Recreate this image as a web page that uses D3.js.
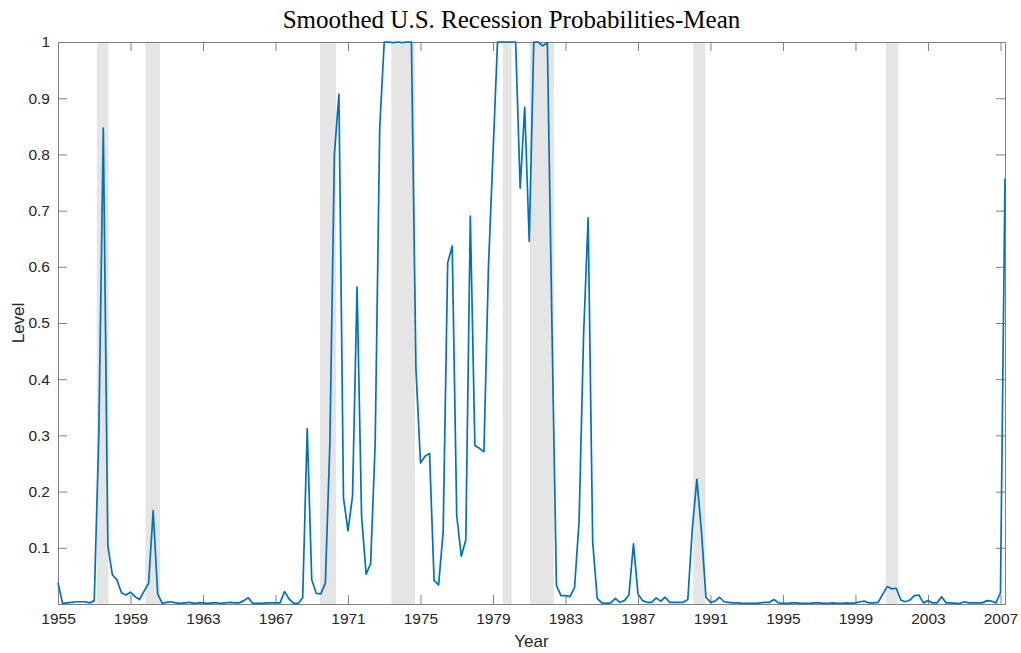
<!DOCTYPE html>
<html>
<head>
<meta charset="utf-8">
<script src="https://cdn.jsdelivr.net/npm/d3@7"></script>
<style>
  html, body { margin: 0; padding: 0; background: #fff; }
  svg { display: block; }
</style>
</head>
<body>
<svg id="chart" width="1021" height="653"></svg>
<script>
// Quarterly smoothed recession probabilities (mean), starting 1955 Q1
const startYear = 1955;
const stepYears = 0.25;
const probMean = [
  0.038, 0.001, 0.002, 0.003,   // 1955
  0.004, 0.004, 0.004, 0.002,   // 1956
  0.006, 0.300, 0.847, 0.104,   // 1957
  0.052, 0.043, 0.020, 0.016,   // 1958
  0.021, 0.013, 0.008, 0.023,   // 1959
  0.037, 0.166, 0.018, 0.001,   // 1960
  0.003, 0.004, 0.002, 0.001,   // 1961
  0.002, 0.003, 0.001, 0.002,   // 1962
  0.002, 0.001, 0.002, 0.002,   // 1963
  0.001, 0.002, 0.003, 0.002,   // 1964
  0.002, 0.006, 0.011, 0.001,   // 1965
  0.001, 0.001, 0.002, 0.002,   // 1966
  0.002, 0.002, 0.022, 0.009,   // 1967
  0.001, 0.001, 0.011, 0.312,   // 1968
  0.043, 0.019, 0.018, 0.037,   // 1969
  0.285, 0.800, 0.907, 0.189,   // 1970
  0.130, 0.192, 0.564, 0.156,   // 1971
  0.053, 0.072, 0.285, 0.847,   // 1972
  1.000, 1.000, 0.999, 1.000,   // 1973
  0.999, 1.000, 1.000, 0.417,   // 1974
  0.251, 0.263, 0.268, 0.042,   // 1975
  0.034, 0.128, 0.607, 0.637,   // 1976
  0.157, 0.085, 0.114, 0.690,   // 1977
  0.282, 0.277, 0.271, 0.600,   // 1978
  0.800, 1.000, 1.000, 1.000,   // 1979
  1.000, 1.000, 0.740, 0.884,   // 1980
  0.645, 1.000, 1.000, 0.993,   // 1981
  0.999, 0.500, 0.033, 0.015,   // 1982
  0.015, 0.013, 0.029, 0.147,   // 1983
  0.480, 0.687, 0.111, 0.010,   // 1984
  0.002, 0.001, 0.002, 0.010,   // 1985
  0.003, 0.006, 0.016, 0.107,   // 1986
  0.018, 0.006, 0.003, 0.003,   // 1987
  0.011, 0.005, 0.012, 0.003,   // 1988
  0.003, 0.003, 0.003, 0.008,   // 1989
  0.135, 0.222, 0.130, 0.012,   // 1990
  0.003, 0.005, 0.012, 0.004,   // 1991
  0.003, 0.002, 0.002, 0.001,   // 1992
  0.001, 0.001, 0.001, 0.002,   // 1993
  0.003, 0.003, 0.008, 0.002,   // 1994
  0.001, 0.001, 0.002, 0.002,   // 1995
  0.001, 0.001, 0.001, 0.002,   // 1996
  0.002, 0.001, 0.001, 0.002,   // 1997
  0.001, 0.001, 0.002, 0.001,   // 1998
  0.002, 0.004, 0.005, 0.002,   // 1999
  0.002, 0.003, 0.017, 0.031,   // 2000
  0.027, 0.028, 0.007, 0.004,   // 2001
  0.007, 0.015, 0.016, 0.002,   // 2002
  0.006, 0.002, 0.002, 0.013,   // 2003
  0.002, 0.002, 0.001, 0.001,   // 2004
  0.004, 0.002, 0.002, 0.002,   // 2005
  0.002, 0.006, 0.005, 0.002,   // 2006
  0.020, 0.757                  // 2007
];

// Recession periods (shaded bands), in years on the time axis
const recessionStart = [1957.14, 1959.82, 1969.46, 1973.39, 1979.54, 1981.03, 1990.05, 2000.68];
const recessionEnd   = [1957.79, 1960.63, 1970.35, 1974.69, 1980.03, 1982.36, 1990.71, 2001.36];

const xTicks = [1955, 1959, 1963, 1967, 1971, 1975, 1979, 1983, 1987, 1991, 1995, 1999, 2003, 2007];
const yTicks = [0.1, 0.2, 0.3, 0.4, 0.5, 0.6, 0.7, 0.8, 0.9, 1];

const titleText = "Smoothed U.S. Recession Probabilities-Mean";
const xLabel = "Year";
const yLabel = "Level";

const series = probMean.map((v, i) => ({ t: startYear + i * stepYears, v }));
const recessions = recessionStart.map((s, i) => ({ s, e: recessionEnd[i] }));

const svg = d3.select("#chart");
const plot = { left: 58, right: 1005, top: 42, bottom: 604 };

const x = d3.scaleLinear().domain([1955, 2007.25]).range([plot.left, plot.right]);
const y = d3.scaleLinear().domain([0, 1]).range([plot.bottom, plot.top]);

const axisColor = "#808080";
const textColor = "#262626";
const lineColor = "#0072BD";
const font = "'Liberation Sans', Arial, Helvetica, sans-serif";

// Shaded recession bands
svg.append("g").selectAll("rect")
  .data(recessions)
  .join("rect")
  .attr("x", d => x(d.s))
  .attr("y", plot.top)
  .attr("width", d => x(d.e) - x(d.s))
  .attr("height", plot.bottom - plot.top)
  .attr("fill", "#e5e5e5");

// Axes with inward ticks on all four sides
const tickLen = 9;
const fmtY = d => (d === 1 ? "1" : d.toFixed(1));

const gx = svg.append("g")
  .attr("transform", `translate(0,${plot.bottom})`)
  .call(d3.axisBottom(x).tickValues(xTicks).tickFormat(d3.format("d")).tickSize(-tickLen).tickPadding(8));
const gxTop = svg.append("g")
  .attr("transform", `translate(0,${plot.top})`)
  .call(d3.axisTop(x).tickValues(xTicks).tickFormat("").tickSize(-tickLen));
const gy = svg.append("g")
  .attr("transform", `translate(${plot.left},0)`)
  .call(d3.axisLeft(y).tickValues(yTicks).tickFormat(fmtY).tickSize(-tickLen).tickPadding(8));
const gyRight = svg.append("g")
  .attr("transform", `translate(${plot.right},0)`)
  .call(d3.axisRight(y).tickValues(yTicks).tickFormat("").tickSize(-tickLen));

[gx, gxTop, gy, gyRight].forEach(g => {
  g.select(".domain").attr("stroke", axisColor).attr("stroke-width", 1);
  g.selectAll(".tick line").attr("stroke", axisColor).attr("stroke-width", 1);
  g.selectAll(".tick text")
    .attr("fill", textColor)
    .style("font-family", font)
    .style("font-size", "15.5px");
});
gx.selectAll(".tick text").attr("dy", "0.8em");

// Probability line
const line = d3.line().x(d => x(d.t)).y(d => y(d.v));
svg.append("path")
  .datum(series)
  .attr("d", line)
  .attr("fill", "none")
  .attr("stroke", lineColor)
  .attr("stroke-width", 1.7)
  .attr("stroke-linejoin", "round");

// Title and axis labels
svg.append("text")
  .attr("x", (plot.left + plot.right) / 2 - 20)
  .attr("y", 28)
  .attr("text-anchor", "middle")
  .attr("fill", "#000")
  .style("font-family", "'Liberation Serif', 'DejaVu Serif', serif")
  .style("font-size", "25px")
  .text(titleText);

svg.append("text")
  .attr("x", (plot.left + plot.right) / 2)
  .attr("y", 647)
  .attr("text-anchor", "middle")
  .attr("fill", textColor)
  .style("font-family", font)
  .style("font-size", "17px")
  .text(xLabel);

svg.append("text")
  .attr("transform", `translate(24,${(plot.top + plot.bottom) / 2}) rotate(-90)`)
  .attr("text-anchor", "middle")
  .attr("fill", textColor)
  .style("font-family", font)
  .style("font-size", "17px")
  .text(yLabel);
</script>
</body>
</html>
